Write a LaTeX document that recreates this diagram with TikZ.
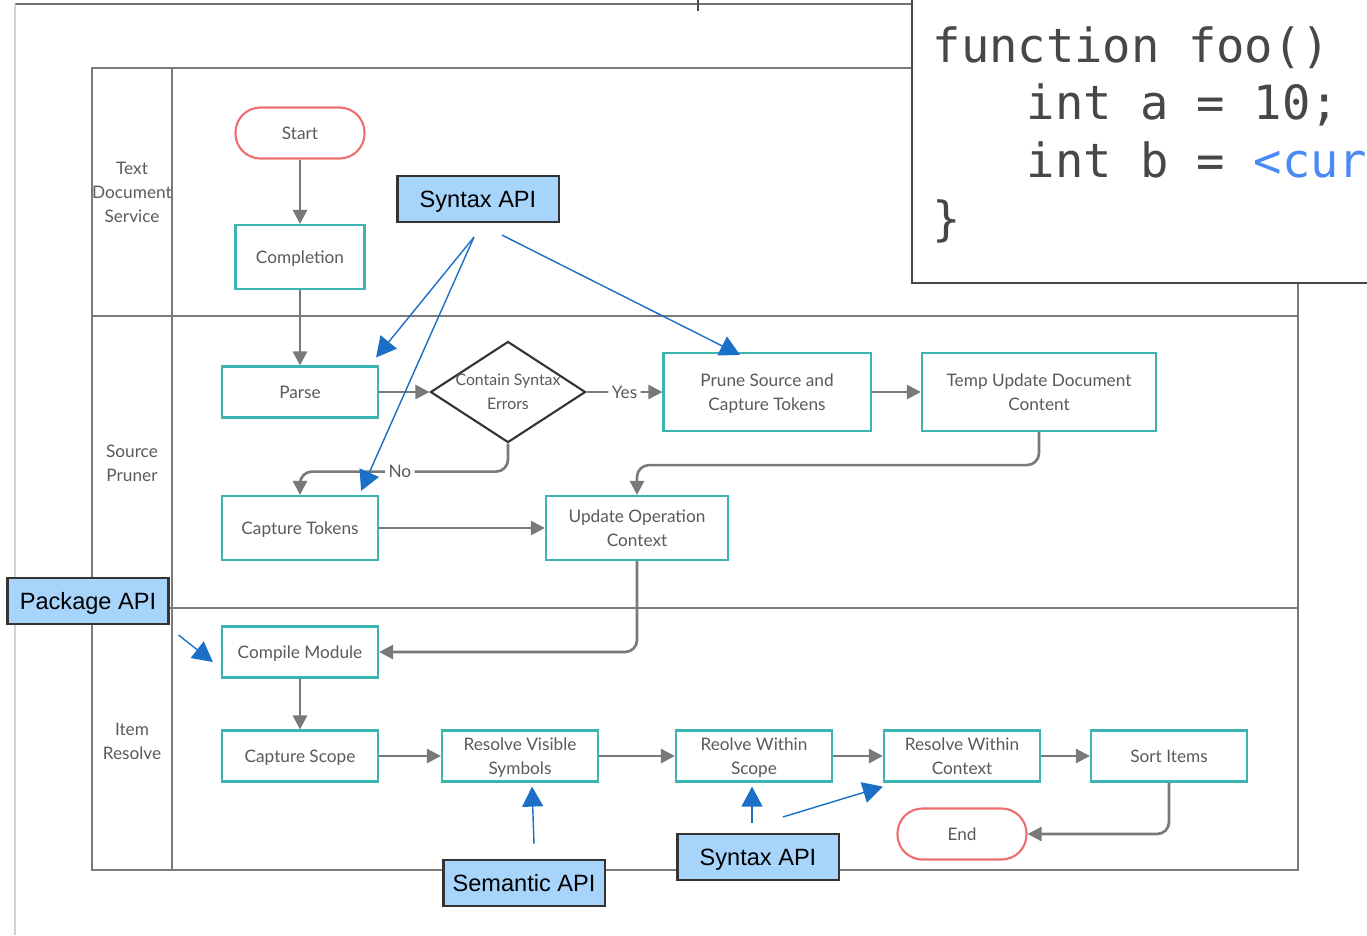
\documentclass[tikz,border=0pt]{standalone}
\usepackage{fontspec}
\setmainfont{Lato}
\newfontfamily\apifont{Liberation Sans}
\newfontfamily\codefont{DejaVu Sans Mono}
\usetikzlibrary{arrows.meta,shapes.geometric,calc}

\definecolor{lanegray}{HTML}{7A7A7A}
\definecolor{flowgray}{HTML}{797979}
\definecolor{txtgray}{HTML}{5A5A5A}
\definecolor{stepteal}{HTML}{3CB4B0}
\definecolor{pillred}{HTML}{EE6E6E}
\definecolor{apiblue}{HTML}{A6D4FA}
\definecolor{arrowblue}{HTML}{1C6FC6}
\definecolor{codegray}{HTML}{474747}
\definecolor{codeblue}{HTML}{4A8AF4}

\newcommand{\flowfont}{\fontsize{4.9}{6.8}\selectfont}

\begin{document}
\begin{tikzpicture}[x=0.01cm,y=-0.01cm,
  lane/.style={draw=lanegray,line width=0.7pt},
  stepbox/.style={draw=stepteal,line width=0.6pt,fill=white,text=txtgray,
    font=\flowfont,align=center,inner sep=0pt,text depth=0pt,
    minimum width=15.6mm,minimum height=5.1mm},
  pill/.style={draw=pillred,line width=0.6pt,fill=white,rounded corners=2.5mm,
    text=txtgray,font=\flowfont,inner sep=0pt,text depth=0pt,
    minimum width=12.9mm,minimum height=5.1mm},
  decision/.style={diamond,draw=black!80,line width=0.6pt,fill=white,
    inner sep=0pt,minimum width=15.5mm,minimum height=10.1mm},
  decisiontext/.style={text=txtgray,font=\fontsize{4.5}{6.8}\selectfont,
    align=center,inner sep=0pt},
  flow/.style={draw=flowgray,line width=0.75pt,rounded corners=1.2mm,
    -{Triangle[length=1.4mm,width=1.4mm]}},
  flowlabel/.style={fill=white,text=txtgray,font=\flowfont,inner sep=1pt},
  api/.style={draw=black!80,line width=0.6pt,fill=apiblue,
    font=\apifont\fontsize{6.7}{8}\selectfont,inner sep=0pt,text depth=0pt,
    minimum width=16.1mm,minimum height=4.6mm},
  apiarrow/.style={draw=arrowblue,line width=0.4pt,
    -{Triangle[length=2mm,width=2.1mm]}},
  lanelabel/.style={text=txtgray,font=\flowfont,align=center},
  codeline/.style={anchor=base west,text=codegray,inner sep=0pt,
    font=\codefont\fontsize{13.4}{16}\selectfont}
]
\useasboundingbox (0,0) rectangle (1367,935);
\clip (0,0) rectangle (1367,935);

% page frame
\draw[black!55,line width=0.7pt] (15,4) -- (1367,4);
\draw[black!18,line width=0.5pt] (15,4) -- (15,935);
\draw[black!70,line width=0.7pt] (698,0) -- (698,11);

% swimlanes
\draw[lane] (92,68) rectangle (1298,870);
\draw[lane] (172,68) -- (172,870);
\draw[lane] (92,316) -- (1298,316);
\draw[lane] (92,608) -- (1298,608);

\node[lanelabel] (lblA) at (132,192) {Text\\Document\\Service};
\node[lanelabel] (lblB) at (132,463) {Source\\Pruner};
\node[lanelabel] (lblC) at (132,741) {Item\\Resolve};

% flow steps
\node[pill] (start) at (300,133) {Start};
\node[stepbox,minimum width=12.9mm,minimum height=6.4mm] (compl) at (300,257) {Completion};
\node[stepbox] (parse) at (300,392) {Parse};
\node[decision,label={[decisiontext]center:Contain Syntax\\Errors}] (dia) at (508,392) {};
\node[stepbox,minimum width=20.7mm,minimum height=7.8mm] (prune) at (767,392) {Prune Source and\\Capture Tokens};
\node[stepbox,minimum width=23.4mm,minimum height=7.8mm] (temp) at (1039,392) {Temp Update Document\\Content};
\node[stepbox,minimum height=6.4mm] (captok) at (300,528) {Capture Tokens};
\node[stepbox,minimum width=18.2mm,minimum height=6.4mm] (upd) at (637,528) {Update Operation\\Context};
\node[stepbox] (compile) at (300,652) {Compile Module};
\node[stepbox] (scope) at (300,756) {Capture Scope};
\node[stepbox] (visible) at (520,756) {Resolve Visible\\Symbols};
\node[stepbox] (within) at (754,756) {Reolve Within\\Scope};
\node[stepbox] (context) at (962,756) {Resolve Within\\Context};
\node[stepbox] (sort) at (1169,756) {Sort Items};
\node[pill] (end) at (962,834) {End};

% flow connectors
\draw[flow] (start) -- (compl);
\draw[flow] (compl) -- (parse);
\draw[flow] (parse) -- (dia);
\draw[flow] (dia) -- node[flowlabel]{Yes} (prune);
\draw[flow] (prune) -- (temp);
\draw[flow] (temp.south) -- ++(0,33) -| (upd.north);
\draw[flow] (dia.south) -- ++(0,28) -| node[flowlabel,pos=0.26]{No} (captok.north);
\draw[flow] (captok) -- (upd);
\draw[flow] (upd.south) |- (compile.east);
\draw[flow] (compile) -- (scope);
\draw[flow] (scope) -- (visible);
\draw[flow] (visible) -- (within);
\draw[flow] (within) -- (context);
\draw[flow] (context) -- (sort);
\draw[flow] (sort.south) |- (end.east);

% API callouts
\node[api] (synA) at (478,199) {Syntax API};
\node[api] (pkg) at (88,601) {Package API};
\node[api] (sem) at (524,883) {Semantic API};
\node[api] (synB) at (758,857) {Syntax API};

\draw[apiarrow] ($(synA.south)+(-4,14)$) -- ($(parse.north east)+(-3,-8)$);
\draw[apiarrow] ($(synA.south)+(-4,14)$) -- ($(captok.north east)+(-18,-4)$);
\draw[apiarrow] ($(synA.south)+(24,12)$) -- ($(prune.north)+(-27,3)$);
\draw[apiarrow] ($(pkg.south east)+(9,10)$) -- ($(compile.west)+(-8,10)$);
\draw[apiarrow] ($(sem.north)+(10,-15)$) -- ($(visible.south)+(12,4)$);
\draw[apiarrow] ($(synB.north)+(-6,-10)$) -- ($(within.south)+(-2,4)$);
\draw[apiarrow] ($(synB.north)+(25,-16)$) -- ($(context.south west)+(0,4)$);

% code excerpt
\draw[codegray,line width=0.7pt,fill=white] (912,-20) rectangle (1400,283);
\node[codeline] (c1) at (932,62) {function foo()};
\node[codeline] (c2) at (1026,119) {int a = 10;};
\node[codeline] (c3) at (1026,177) {int b = \textcolor{codeblue}{<cur}};
\node[codeline] (c4) at (932,235) {\}};
\end{tikzpicture}
\end{document}
